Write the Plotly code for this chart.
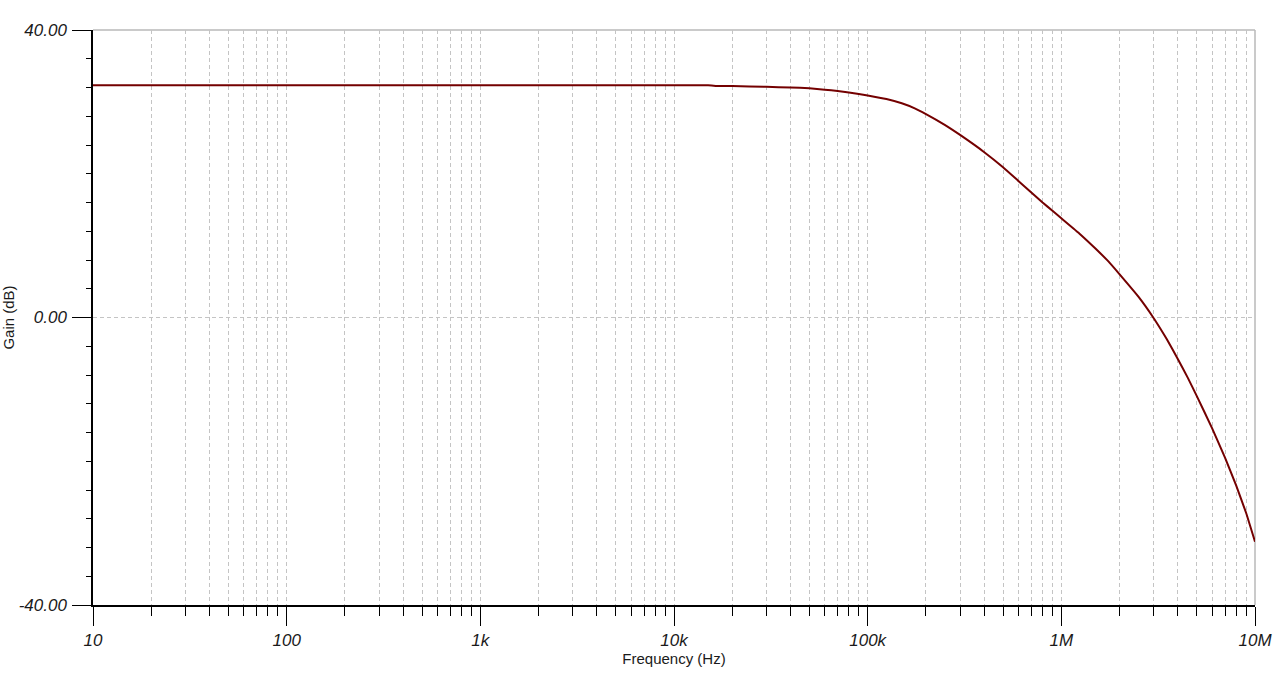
import numpy as np
import plotly.graph_objects as go

# Frequency (Hz) and gain (dB)
freq = [10, 100, 1e3, 1e4, 1.5e4, 1.7e4, 2e4, 3e4, 4e4, 5e4, 6e4, 7e4, 8e4, 9e4,
        1e5, 1.25e5, 1.5e5, 1.75e5, 2e5, 2.5e5, 3e5, 4e5, 5e5, 6e5, 7e5, 8e5, 9e5,
        1e6, 1.25e6, 1.5e6, 1.75e6, 2e6, 2.5e6, 3e6, 3.5e6, 4e6, 4.5e6, 5e6, 6e6, 7e6, 8e6, 9e6, 1e7]
gain = [32.3, 32.3, 32.3, 32.3, 32.3, 32.2, 32.2, 32.1, 32.0, 31.9, 31.7, 31.5, 31.3, 31.1,
        30.9, 30.4, 29.8, 29.1, 28.3, 26.8, 25.4, 23.0, 20.9, 19.0, 17.4, 16.0, 14.85,
        13.8, 11.6, 9.6, 7.8, 6.0, 2.9, -0.1, -3.0, -5.8, -8.4, -10.9, -15.4, -19.5, -23.4, -27.2, -31.2]

x_major_vals = [10, 100, 1e3, 1e4, 1e5, 1e6, 1e7]
x_major_text = ["10", "100", "1k", "10k", "100k", "1M", "10M"]
y_major_vals = [40, 0, -40]
y_major_text = ["40.00", "0.00", "-40.00"]

x_minor_vals = [m * 10 ** d for d in range(1, 7) for m in range(2, 10)]

fig = go.Figure()
fig.add_trace(go.Scatter(x=freq, y=gain, mode="lines",
                         line=dict(color="#740000", width=2, shape="spline", smoothing=0.3),
                         showlegend=False, hoverinfo="skip"))

tick_font = dict(family="Liberation Sans, Arial, sans-serif", size=17, color="#1a1a1a", style="italic")
title_font = dict(family="Liberation Sans, Arial, sans-serif", size=15, color="#1a1a1a")
grid_dash = "4px,3px"

fig.update_xaxes(
    type="log", range=[1, 7], automargin=False,
    tickmode="array", tickvals=x_major_vals, ticktext=x_major_text,
    ticks="outside", ticklen=19, tickwidth=1, tickcolor="black",
    tickfont=tick_font, ticklabelstandoff=0,
    showline=True, linecolor="black", linewidth=1.5,
    showgrid=True, gridcolor="#c4c4c4", griddash=grid_dash, gridwidth=1,
    minor=dict(tickmode="array", tickvals=x_minor_vals, ticks="outside", ticklen=9,
               tickcolor="black", tickwidth=1, showgrid=True, gridcolor="#c4c4c4",
               griddash=grid_dash, gridwidth=1),
    zeroline=False,
    title=dict(text="Frequency (Hz)", font=title_font, standoff=4),
)
fig.update_yaxes(
    range=[-40, 40], automargin=False,
    tickmode="array", tickvals=y_major_vals, ticktext=y_major_text,
    ticks="outside", ticklen=19, tickwidth=1, tickcolor="black",
    tickfont=tick_font, ticklabelstandoff=2,
    showline=True, linecolor="black", linewidth=1.5,
    showgrid=True, gridcolor="#c4c4c4", griddash=grid_dash, gridwidth=1,
    minor=dict(dtick=4, tick0=0, ticks="outside", ticklen=5, tickcolor="black",
               tickwidth=1, showgrid=False),
    zeroline=False,
    title=dict(text="Gain (dB)", font=title_font, standoff=4),
)

# light gray top and right border
fig.add_shape(type="line", xref="paper", yref="paper", x0=0, x1=1, y0=1, y1=1,
              line=dict(color="#b8b8b8", width=1.5), layer="below")
fig.add_shape(type="line", xref="paper", yref="paper", x0=1, x1=1, y0=0, y1=1,
              line=dict(color="#b8b8b8", width=1.5), layer="below")

fig.update_layout(
    width=1280, height=681,
    margin=dict(l=93, r=25, t=30, b=76),
    paper_bgcolor="white", plot_bgcolor="white",
)

fig.write_html("out.html", config={"displayModeBar": False},
               post_script="document.body.style.margin='0';document.body.style.overflow='hidden';")
